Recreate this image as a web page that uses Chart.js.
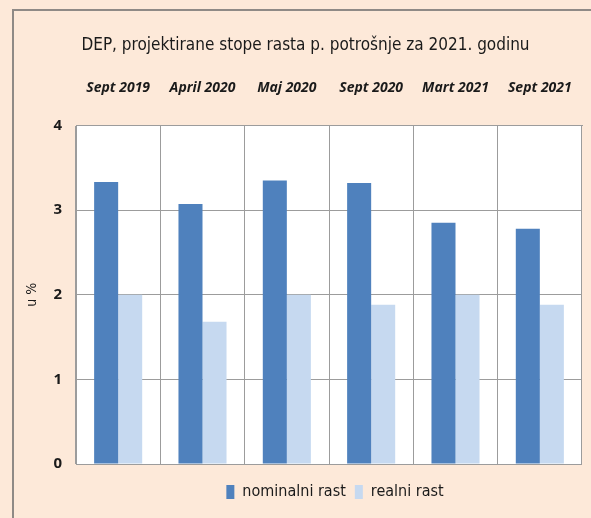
<!DOCTYPE html>
<html>
<head>
<meta charset="utf-8">
<script src="https://cdn.jsdelivr.net/npm/chart.js@4.4.1/dist/chart.umd.min.js"></script>
<style>
  html, body { margin: 0; padding: 0; background: #fde9d9; }
  #wrap { position: relative; width: 591px; height: 518px; overflow: hidden; }
  #frame { position: absolute; left: 12px; top: 9px; width: 700px; height: 700px;
           border-left: 2px solid #8f8a86; border-top: 2px solid #8f8a86; box-sizing: border-box; }
  canvas { position: absolute; left: 0; top: 0; }
</style>
</head>
<body>
<div id="wrap">
  <div id="frame"></div>
  <canvas id="c" width="591" height="518"></canvas>
</div>
<script>
const titleText = 'DEP, projektirane stope rasta p. potrošnje za 2021. godinu';
const categories = ['Sept 2019', 'April 2020', 'Maj 2020', 'Sept 2020', 'Mart 2021', 'Sept 2021'];
const nominalniRast = [3.33, 3.07, 3.35, 3.32, 2.85, 2.78];
const realniRast = [2.0, 1.68, 2.0, 1.88, 2.0, 1.88];
const seriesNames = ['nominalni rast', 'realni rast'];
const yTicks = [0, 1, 2, 3, 4];

const FONT = "'DejaVu Sans Condensed', 'Liberation Sans Narrow', 'Open Sans', sans-serif";
const FONT2 = "'Open Sans', sans-serif";

const plotBg = {
  id: 'plotBg',
  beforeDraw(chart) {
    const a = chart.chartArea, ctx = chart.ctx;
    ctx.save();
    ctx.fillStyle = '#ffffff';
    ctx.fillRect(a.left, a.top, a.right - a.left, a.bottom - a.top);
    ctx.restore();
  },
  afterLayout(chart) {
    const lg = chart.legend;
    if (lg) {
      lg.left = 88; lg.right = 582; lg.width = lg.right - lg.left;
      lg.top += 11; lg.bottom += 11;
    }
    const tb = chart.titleBlock;
    if (tb) { tb.left = 20; tb.right = 591; tb.width = tb.right - tb.left; }
  }
};

new Chart(document.getElementById('c'), {
  type: 'bar',
  data: {
    labels: categories,
    datasets: [
      { label: seriesNames[0], data: nominalniRast, backgroundColor: '#4f81bd', borderWidth: 0 },
      { label: seriesNames[1], data: realniRast, backgroundColor: '#c6d9f0', borderWidth: 0 }
    ]
  },
  options: {
    responsive: false,
    animation: false,
    devicePixelRatio: 1,
    layout: { autoPadding: false, padding: { left: 0, right: 9, top: 0, bottom: 19 } },
    datasets: { bar: { barPercentage: 1, categoryPercentage: 0.57 } },
    plugins: {
      title: {
        display: true, text: titleText, color: '#1a1a1a',
        font: { family: FONT, size: 17, weight: 'normal' },
        padding: { top: 35, bottom: 0 }
      },
      legend: {
        position: 'bottom',
        labels: {
          boxWidth: 8, boxHeight: 14, padding: 9, color: '#1a1a1a',
          font: { family: FONT, size: 16 }
        }
      },
      tooltip: { enabled: false }
    },
    scales: {
      x: {
        position: 'top',
        grid: { color: '#9c9c9c', lineWidth: 1, offset: true, drawTicks: false },
        border: { color: '#9c9c9c' },
        ticks: {
          color: '#1a1a1a', padding: 29, maxRotation: 0,
          font: { family: FONT2, size: 14, style: 'italic', weight: 'bold' }
        },
        afterFit(s) { s.height = 70; s.paddingLeft = 0; s.paddingRight = 0; }
      },
      y: {
        min: 0, max: 4,
        afterBuildTicks(s) { s.ticks = yTicks.map(v => ({ value: v })); },
        grid: { color: '#9c9c9c', lineWidth: 1, drawTicks: false },
        border: { color: '#9c9c9c' },
        ticks: {
          color: '#1a1a1a', padding: 14,
          font: { family: FONT2, size: 15, weight: 'bold' }
        },
        title: {
          display: true, text: 'u %', color: '#1a1a1a',
          font: { family: FONT, size: 14 },
          padding: { top: 24, bottom: 0 }
        },
        afterFit(s) { s.width = 76; s.paddingTop = 0; s.paddingBottom = 0; }
      }
    }
  },
  plugins: [plotBg]
});
</script>
</body>
</html>
